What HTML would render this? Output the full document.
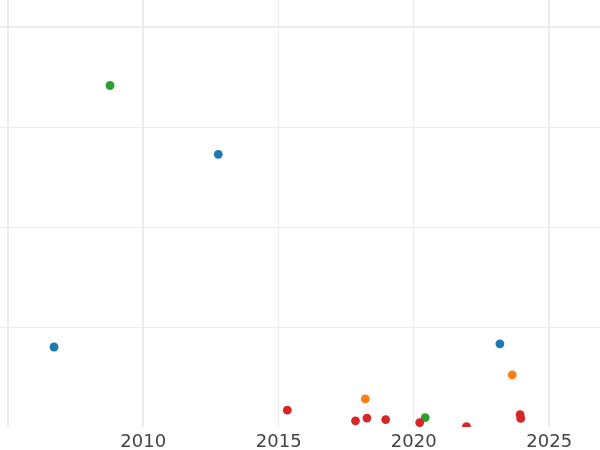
<!DOCTYPE html>
<html lang="en">
<head>
<meta charset="utf-8">
<title>Scatter chart</title>
<style>
html,body{margin:0;padding:0;background:#fff;width:600px;height:450px;overflow:hidden}
svg{display:block}
.t text{font-family:"DejaVu Sans","Liberation Sans",sans-serif;font-size:18px;fill:#444;text-anchor:middle}
</style>
</head>
<body>
<svg width="600" height="450" viewBox="0 0 600 450">
<rect width="600" height="450" fill="#fff"/>
<defs><clipPath id="c"><rect x="0" y="0" width="600" height="427"/></clipPath></defs>
<g fill="#ececec" shape-rendering="crispEdges">
<rect x="7" y="0" width="2" height="427"/>
<rect x="142" y="0" width="2" height="427"/>
<rect x="278" y="0" width="1" height="427"/>
<rect x="413" y="0" width="1" height="427"/>
<rect x="548" y="0" width="2" height="427"/>
<rect x="0" y="26" width="600" height="2"/>
<rect x="0" y="127" width="600" height="1"/>
<rect x="0" y="227" width="600" height="1"/>
<rect x="0" y="327" width="600" height="1"/>
</g>
<g clip-path="url(#c)">
<circle cx="110" cy="85.5" r="4.42" fill="#2ca02c"/>
<circle cx="218.3" cy="154.3" r="4.42" fill="#1f77b4"/>
<circle cx="54.05" cy="347.0" r="4.42" fill="#1f77b4"/>
<circle cx="499.9" cy="343.8" r="4.42" fill="#1f77b4"/>
<circle cx="365.3" cy="398.9" r="4.42" fill="#ff7f0e"/>
<circle cx="512.2" cy="374.8" r="4.42" fill="#ff7f0e"/>
<circle cx="425.2" cy="417.6" r="4.42" fill="#2ca02c"/>
<circle cx="287.3" cy="410.15" r="4.42" fill="#d62728"/>
<circle cx="355.5" cy="420.8" r="4.42" fill="#d62728"/>
<circle cx="366.9" cy="418.1" r="4.42" fill="#d62728"/>
<circle cx="385.7" cy="419.6" r="4.42" fill="#d62728"/>
<circle cx="419.7" cy="422.6" r="4.42" fill="#d62728"/>
<circle cx="466.5" cy="426.6" r="4.42" fill="#d62728"/>
<circle cx="520.1" cy="414.7" r="4.42" fill="#d62728"/>
<circle cx="520.7" cy="418.4" r="4.42" fill="#d62728"/>
</g>
<g class="t" style="will-change:transform" transform="matrix(1 0 0 1.015 0.2 -6.705)">
<text x="143" y="447">2010</text>
<text x="278.5" y="447">2015</text>
<text x="413.5" y="447">2020</text>
<text x="549" y="447">2025</text>
</g>
</svg>
</body>
</html>
